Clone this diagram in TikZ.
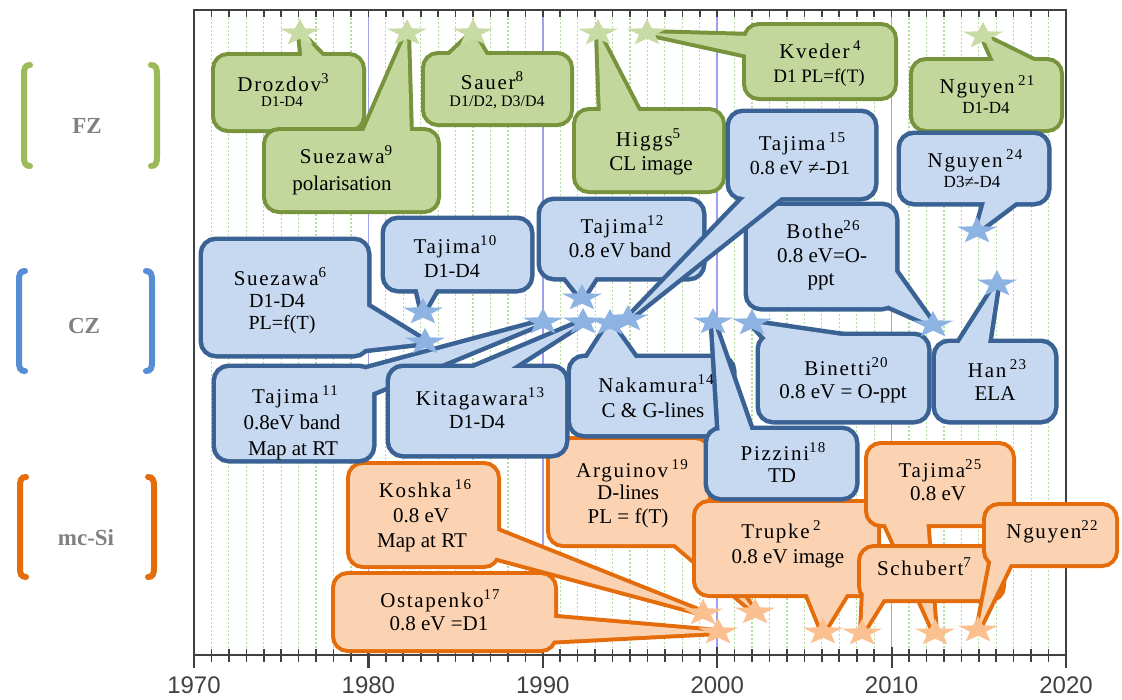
\documentclass[tikz,border=0pt]{standalone}
\usepackage{fontspec}
\setmainfont{Liberation Serif}
\newfontfamily\namefont[LetterSpace=8]{Liberation Serif}
\newfontfamily\axisfont{Liberation Sans}
\definecolor{gfillc}{HTML}{C3D69B}
\definecolor{glinec}{HTML}{77933C}
\definecolor{gstarc}{HTML}{C9DBA4}
\definecolor{bfillc}{HTML}{C6D9F1}
\definecolor{blinec}{HTML}{3A6294}
\definecolor{bstarc}{HTML}{8DB3E2}
\definecolor{ofillc}{HTML}{FBD3B2}
\definecolor{olinec}{HTML}{E46C0A}
\definecolor{ostarc}{HTML}{FAC090}
\definecolor{gridg}{HTML}{B5DDA0}
\definecolor{gridp}{HTML}{A0A0F0}
\definecolor{framec}{HTML}{404040}
\definecolor{lblc}{HTML}{808080}
\definecolor{brg}{HTML}{9BBB59}
\definecolor{brb}{HTML}{558ED5}
\definecolor{bro}{HTML}{E46C0A}
\newcommand\sups[1]{\raisebox{7.5pt}{\fontsize{15}{15}\selectfont #1}}
\newcommand\callout[3]{%
  \draw[#1line, rounded corners=13pt] #2;
  \draw[#1line, line join=round] #3;
  \fill[#1fill, rounded corners=13pt] #2;
  \fill[#1fill] #3;}
\newcommand\drawstar[2]{\fill[#2, shift={(#1)}] (270:21 and 14) -- (306:8.5 and 5.7) -- (342:21 and 14) -- (18:8.5 and 5.7) -- (54:21 and 14) -- (90:8.5 and 5.7) -- (126:21 and 14) -- (162:8.5 and 5.7) -- (198:21 and 14) -- (234:8.5 and 5.7) -- cycle;}
\newcommand\brkt[5]{%
  \draw[#1,line width=6pt,line cap=round] (#2+6,#4) .. controls (#2+1,#4) and (#2,#4+3) .. (#2,#4+10) -- (#2,#5-10) .. controls (#2,#5-3) and (#2+1,#5) .. (#2+6,#5);
  \draw[#1,line width=6pt,line cap=round] (#3-6,#4) .. controls (#3-1,#4) and (#3,#4+3) .. (#3,#4+10) -- (#3,#5-10) .. controls (#3,#5-3) and (#3-1,#5) .. (#3-6,#5);}
\tikzset{
  gline/.style={draw=glinec, line width=8pt},
  gfill/.style={fill=gfillc},
  bline/.style={draw=blinec, line width=9pt},
  bfill/.style={fill=bfillc},
  oline/.style={draw=olinec, line width=8pt},
  ofill/.style={fill=ofillc},
  nm/.style={font=\namefont\fontsize{21}{21}\selectfont, inner sep=0pt, anchor=base},
  bd/.style={font=\fontsize{21}{21}\selectfont, inner sep=0pt, anchor=base},
  bdm/.style={font=\fontsize{20}{20}\selectfont, inner sep=0pt, anchor=base},
  sm/.style={font=\fontsize{#1}{#1}\selectfont, inner sep=0pt, anchor=base},
  lbl/.style={font=\bfseries\fontsize{23}{23}\selectfont, text=lblc, inner sep=0pt, anchor=base},
  yrlbl/.style={font=\axisfont\fontsize{24}{24}\selectfont, text=framec, inner sep=0pt, anchor=base},
  mingrid/.style={draw=gridg, line width=1.2pt, dash pattern=on 2pt off 2pt},
  majgrid/.style={draw=gridp, line width=1.6pt},
  frm/.style={draw=framec, line width=2pt},
}
\begin{document}
\begin{tikzpicture}[x=1pt,y=-1pt]
\useasboundingbox (0,0) rectangle (1122,699);
% grid
\foreach \i in {1,...,49} \draw[mingrid] (194+17.44*\i,10) -- (194+17.44*\i,655);
\foreach \d in {1,2,3,4} \draw[majgrid] (194+174.4*\d,10) -- (194+174.4*\d,655);
% frame and ticks
\draw[frm] (194,10) rectangle (1066,655);
\foreach \i in {0,...,50} {
  \draw[frm, line width=1.6pt] (194+17.44*\i,10) -- ++(0,7);
  \draw[frm, line width=1.6pt] (194+17.44*\i,649) -- (194+17.44*\i,662);
}
\foreach \d/\yr in {0/1970,1/1980,2/1990,3/2000,4/2010,5/2020} {
  \draw[frm, line width=2.2pt] (194+174.4*\d,647) -- (194+174.4*\d,668);
  \node[yrlbl] (y\yr) at (194+174.4*\d,693) {\yr};
}
% category labels
\brkt{brg}{24}{157}{65}{166}
\brkt{brb}{19}{152}{271}{371}
\brkt{bro}{20}{154}{477}{577}
\node[lbl] (fz) at (87,133) {FZ};
\node[lbl] (cz) at (84,333) {CZ};
\node[lbl] (mc) at (86,545) {mc-Si};
% star positions
\coordinate (f3) at (300,33);
\coordinate (f9) at (407,33);
\coordinate (f8) at (473,33);
\coordinate (f5) at (598,33);
\coordinate (f4) at (647,33);
\coordinate (f21) at (983,36);
\coordinate (c10) at (423,312);
\coordinate (c6) at (425,342);
\coordinate (c11) at (543,322);
\coordinate (c12) at (582,298);
\coordinate (c13) at (583,322);
\coordinate (c14) at (610,323);
\coordinate (c15) at (628,319);
\coordinate (c18) at (713,322);
\coordinate (c20) at (752,323);
\coordinate (c26) at (933,325);
\coordinate (c23) at (997,284);
\coordinate (c24) at (977,231);
\coordinate (m16) at (703,613);
\coordinate (m17) at (718,632);
\coordinate (m19) at (755,612);
\coordinate (m2) at (823,632);
\coordinate (m7) at (862,633);
\coordinate (m25) at (935,633);
\coordinate (m22) at (978,630);
% FZ callouts
\callout{g}{(215,56) rectangle (362,129)}{(303,64) -- (f3) -- (330,64) -- cycle}
\callout{g}{(425,55) rectangle (570,123)}{(442,62) -- (f8) -- (490,62) -- cycle}
\callout{g}{(266,131) rectangle (437,210)}{(362,136) -- (f9) -- (410,136) -- cycle}
\callout{g}{(576,111) rectangle (722,190)}{(601,118) -- (f5) -- (642,118) -- cycle}
\callout{g}{(746,26) rectangle (894,97)}{(752,36) -- (f4) -- (752,56) -- cycle}
\callout{g}{(913,61) rectangle (1060,129)}{(997,68) -- (f21) -- (1048,68) -- cycle}
% mc-Si callouts
\callout{o}{(350,465) rectangle (497,565)}{(490,528) -- (m16) -- (490,556) -- cycle}
\callout{o}{(335,575) rectangle (554,649)}{(545,617) -- (m17) -- (545,641) -- cycle}
\callout{o}{(550,440) rectangle (708,544)}{(668,538) -- (m19) -- (700,538) -- cycle}
\callout{o}{(696,503) rectangle (877,594)}{(805,588) -- (m2) -- (850,588) -- cycle}
\callout{o}{(868,445) rectangle (1012,524)}{(883,518) -- (m25) -- (926,518) -- cycle}
\callout{o}{(861,548) rectangle (1002,599)}{(864,590) -- (m7) -- (885,596) -- cycle}
\callout{o}{(986,506) rectangle (1115,564)}{(992,558) -- (m22) -- (1012,560) -- cycle}
% CZ callouts
\callout{b}{(541,201) rectangle (702,277)}{(560,270) -- (c12) -- (600,270) -- cycle}
\callout{b}{(748,206) rectangle (895,307)}{(888,262) -- (c26) -- (876,300) -- cycle}
\callout{b}{(730,113) rectangle (874,197)}{(752,190) -- (c15) -- (790,190) -- cycle}
\callout{b}{(901,135) rectangle (1047,202)}{(987,195) -- (c24) -- (1025,195) -- cycle}
\callout{b}{(385,220) rectangle (530,289)}{(416,282) -- (c10) -- (440,282) -- cycle}
\callout{b}{(203,241) rectangle (367,354)}{(360,302) -- (c6) -- (355,350) -- cycle}
\callout{b}{(216,368) rectangle (372,459)}{(345,375) -- (c11) -- (366,395) -- cycle}
\callout{b}{(390,368) rectangle (565,454)}{(457,375) -- (c13) -- (500,375) -- cycle}
\callout{b}{(571,358) rectangle (732,434)}{(583,365) -- (c14) -- (640,365) -- cycle}
\callout{b}{(760,336) rectangle (927,420)}{(770,343) -- (c20) -- (890,343) -- cycle}
\callout{b}{(936,343) rectangle (1054,420)}{(955,350) -- (c23) -- (987,350) -- cycle}
\callout{b}{(708,430) rectangle (855,497)}{(720,437) -- (c18) -- (753,437) -- cycle}
% stars
\foreach \s in {f3,f9,f8,f5,f4,f21} {\drawstar{\s}{gstarc}}
\foreach \s in {c10,c6,c11,c12,c13,c14,c15,c18,c20,c26,c23,c24} {\drawstar{\s}{bstarc}}
\foreach \s in {m16,m17,m19,m2,m7,m25,m22} {\drawstar{\s}{ostarc}}
% FZ texts
\node[nm] (t3) at (283,91) {Drozdov\sups{3}};
\node[sm=15] (t3b) at (282,106) {D1-D4};
\node[nm] (t9) at (346,163) {Suezawa\sups{9}};
\node[bd] (t9b) at (342,190) {polarisation};
\node[nm] (t8) at (492,89) {Sauer\sups{8}};
\node[sm=16] (t8b) at (497,106) {D1/D2, D3/D4};
\node[nm] (t5) at (648,146) {Higgs\sups{5}};
\node[bd] (t5b) at (651,170) {CL image};
\node[nm] (t4) at (820,58) {Kveder\,\sups{4}};
\node[sm=19] (t4b) at (819,82) {D1 PL=f(T)};
\node[nm] (t21) at (987,93) {Nguyen\,\sups{21}};
\node[sm=17] (t21b) at (986,113) {D1-D4};
% CZ texts
\node[nm] (t15) at (802,150) {Tajima\,\sups{15}};
\node[bdm] (t15b) at (800,174) {0.8 eV ≠-D1};
\node[nm] (t24) at (975,167) {Nguyen\,\sups{24}};
\node[sm=17] (t24b) at (972,187) {D3≠-D4};
\node[nm] (t10) at (455,253) {Tajima\sups{10}};
\node[bdm] (t10b) at (452,277) {D1-D4};
\node[nm] (t6) at (280,285) {Suezawa\sups{6}};
\node[bdm] (t6b) at (277,307) {D1-D4};
\node[bdm] (t6c) at (282,329) {PL=f(T)};
\node[nm] (t11) at (295,403) {Tajima\,\sups{11}};
\node[bd] (t11b) at (292,429) {0.8eV band};
\node[bd] (t11c) at (293,455) {Map at RT};
\node[nm] (t13) at (480,405) {Kitagawara\sups{13}};
\node[bdm] (t13b) at (477,428) {D1-D4};
\node[nm] (t12) at (622,233) {Tajima\sups{12}};
\node[bd] (t12b) at (620,257) {0.8 eV band};
\node[nm] (t26) at (823,238) {Bothe\sups{26}};
\node[bd] (t26b) at (822,262) {0.8 eV=O-};
\node[bd] (t26c) at (821,285) {ppt};
\node[nm] (t14) at (656,392) {Nakamura\sups{14}};
\node[bd] (t14b) at (653,417) {C \& G-lines};
\node[nm] (t20) at (846,375) {Binetti\sups{20}};
\node[bd] (t20b) at (843,398) {0.8 eV = O-ppt};
\node[nm] (t23) at (997,377) {Han\,\sups{23}};
\node[bd] (t23b) at (995,400) {ELA};
\node[nm] (t18) at (783,460) {Pizzini\sups{18}};
\node[bd] (t18b) at (782,482) {TD};
% mc-Si texts
\node[nm] (t16) at (425,497) {Koshka\,\sups{16}};
\node[bd] (t16b) at (421,522) {0.8 eV};
\node[bd] (t16c) at (422,547) {Map at RT};
\node[nm] (t17) at (440,607) {Ostapenko\sups{17}};
\node[bd] (t17b) at (439,630) {0.8 eV =D1};
\node[nm] (t19) at (632,477) {Arguinov\,\sups{19}};
\node[bd] (t19b) at (628,499) {D-lines};
\node[bd] (t19c) at (628,523) {PL = f(T)};
\node[nm] (t2) at (781,538) {Trupke\,\sups{2}};
\node[bd] (t2b) at (788,563) {0.8 eV image};
\node[nm] (t25) at (940,477) {Tajima\sups{25}};
\node[bd] (t25b) at (938,500) {0.8 eV};
\node[nm] (t7) at (924,575) {Schubert\sups{7}};
\node[nm] (t22) at (1052,538) {Nguyen\sups{22}};
\end{tikzpicture}
\end{document}
